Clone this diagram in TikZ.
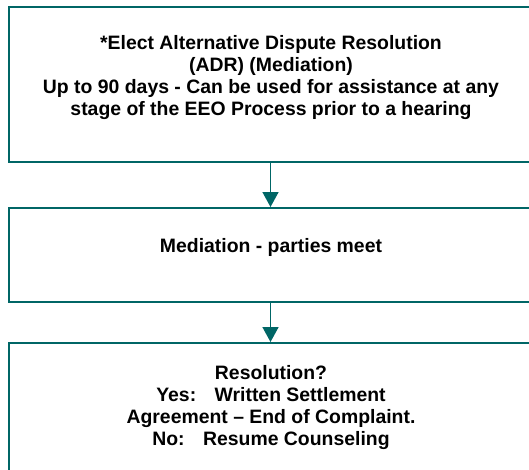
\documentclass[tikz,border=0pt]{standalone}
\usepackage{fontspec}
\setmainfont{Liberation Sans}
\usetikzlibrary{arrows.meta}
\definecolor{eeoteal}{RGB}{0,102,102}
\tikzstyle{stage} = [rectangle, draw=eeoteal, line width=2pt, minimum width=523pt, inner sep=0pt]
\tikzstyle{caption} = [align=center, anchor=north, inner sep=0pt, font=\bfseries\fontsize{19.4}{22}\selectfont]
\tikzstyle{arrow} = [eeoteal, line width=1.6pt, -{Triangle[width=16pt,length=15pt]}]

\begin{document}
\begin{tikzpicture}[x=1pt, y=-1pt]
    \useasboundingbox (0,0) rectangle (529,469);
    \clip (0,0) rectangle (529,469);
    \node (adr)        [stage, minimum height=155pt] at (270.5,84.5) {};
    \node (mediation)  [stage, minimum height=94pt]  at (270.5,255)  {};
    \node (resolution) [stage, minimum height=177pt] at (270.5,431.5) {};

    \node (adr-text) [caption] at (271,35) {*Elect Alternative Dispute Resolution\\
      (ADR) (Mediation)\\ Up to 90 days - Can be used for assistance at any\\
      stage of the EEO Process prior to a hearing};
    \node (mediation-text) [caption] at (271,238) {Mediation - parties meet};
    \node (resolution-text) [caption] at (271,365) {Resolution?\\
      Yes:\hspace{0.95em}Written Settlement\\ Agreement -- End of Complaint.\\
      No:\hspace{0.95em}Resume Counseling};

    \draw [arrow] (adr)       -- (mediation);
    \draw [arrow] (mediation) -- (resolution);
  \end{tikzpicture}
\end{document}
